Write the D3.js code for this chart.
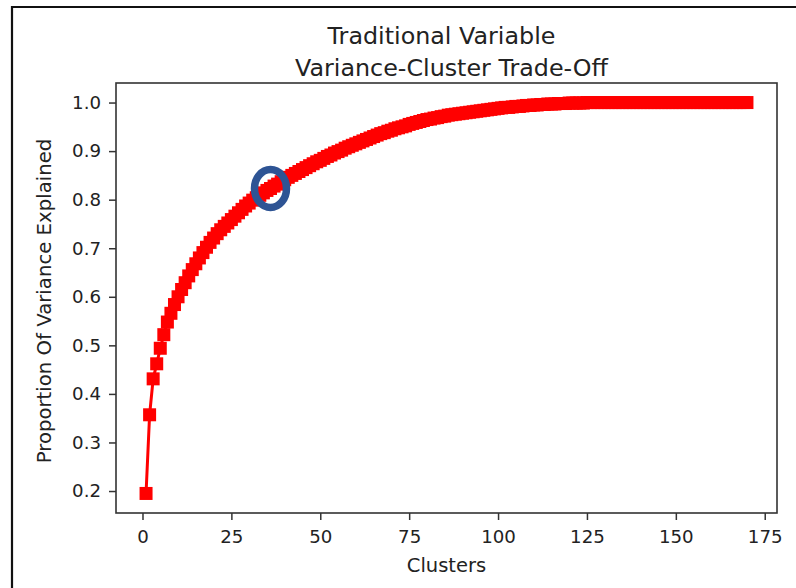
<!DOCTYPE html>
<html>
<head>
<meta charset="utf-8">
<script src="https://cdn.jsdelivr.net/npm/d3@7"></script>
<style>
  html, body { margin: 0; padding: 0; background: #fff; }
  svg { display: block; font-family: "DejaVu Sans", sans-serif; }
</style>
</head>
<body>
<svg id="chart" width="796" height="588"></svg>
<script>
// Title lines
const titleLines = ["Traditional Variable", "Variance-Cluster Trade-Off"];
const xLabel = "Clusters";
const yLabel = "Proportion Of Variance Explained";

// Tick values
const xTicks = [0, 25, 50, 75, 100, 125, 150, 175];
const yTicks = [0.2, 0.3, 0.4, 0.5, 0.6, 0.7, 0.8, 0.9, 1.0];

// Number of clusters, 1..170
const clusters = d3.range(1, 171);

// Cumulative proportion of variance explained for each cluster count
const varianceExplained = [
  0.195, 0.357, 0.431, 0.462, 0.494, 0.522, 0.548, 0.566, 0.584, 0.600,
  0.615, 0.629, 0.643, 0.656, 0.668, 0.680, 0.691, 0.702, 0.712, 0.721,
  0.730, 0.738, 0.745, 0.752, 0.759, 0.766, 0.773, 0.780, 0.787, 0.793,
  0.799, 0.804, 0.809, 0.814, 0.819, 0.823, 0.828, 0.832, 0.837, 0.841,
  0.846, 0.850, 0.854, 0.858, 0.862, 0.866, 0.870, 0.874, 0.878, 0.881,
  0.885, 0.889, 0.892, 0.896, 0.899, 0.902, 0.906, 0.909, 0.912, 0.915,
  0.918, 0.921, 0.924, 0.927, 0.930, 0.933, 0.936, 0.938, 0.941, 0.943,
  0.946, 0.948, 0.950, 0.952, 0.955, 0.957, 0.959, 0.961, 0.963, 0.965,
  0.966, 0.968, 0.969, 0.971, 0.972, 0.974, 0.975, 0.976, 0.977, 0.978,
  0.979, 0.980, 0.981, 0.982, 0.983, 0.984, 0.985, 0.986, 0.987, 0.988,
  0.989, 0.990, 0.990, 0.991, 0.992, 0.992, 0.993, 0.994, 0.994, 0.995,
  0.995, 0.996, 0.996, 0.997, 0.997, 0.997, 0.998, 0.998, 0.998, 0.999,
  0.999, 0.999, 0.999, 0.999, 1.000, 1.000, 1.000, 1.000, 1.000, 1.000,
  1.000, 1.000, 1.000, 1.000, 1.000, 1.000, 1.000, 1.000, 1.000, 1.000,
  1.000, 1.000, 1.000, 1.000, 1.000, 1.000, 1.000, 1.000, 1.000, 1.000,
  1.000, 1.000, 1.000, 1.000, 1.000, 1.000, 1.000, 1.000, 1.000, 1.000,
  1.000, 1.000, 1.000, 1.000, 1.000, 1.000, 1.000, 1.000, 1.000, 1.000
];

// Cluster count singled out with a ring
const highlightCluster = 36;

const data = clusters.map((c, i) => ({ c, v: varianceExplained[i] }));

const svg = d3.select("#chart");
const plot = { left: 116, right: 777, top: 83, bottom: 513 };

// matplotlib-style 5% data margins
function padded(ext) {
  const m = (ext[1] - ext[0]) * 0.05;
  return [ext[0] - m, ext[1] + m];
}

const x = d3.scaleLinear()
  .domain(padded(d3.extent(clusters)))
  .range([plot.left, plot.right]);
const y = d3.scaleLinear()
  .domain(padded(d3.extent(varianceExplained)))
  .range([plot.bottom, plot.top]);

// Outer frame around the figure
svg.append("path")
  .attr("d", "M12,588V7H796")
  .attr("fill", "none")
  .attr("stroke", "#111")
  .attr("stroke-width", 2.2);

// Title
const cx = (plot.left + plot.right) / 2;
svg.append("text")
  .attr("x", cx - 5).attr("y", 44)
  .attr("text-anchor", "middle")
  .attr("font-size", 23.8).attr("fill", "#222")
  .text(titleLines[0]);
svg.append("text")
  .attr("x", cx + 5).attr("y", 75.5)
  .attr("text-anchor", "middle")
  .attr("font-size", 23.8).attr("fill", "#222")
  .text(titleLines[1]);

// Axes
const xAxis = d3.axisBottom(x).tickValues(xTicks).tickFormat(d3.format("d"))
  .tickSize(7).tickPadding(6);
const yAxis = d3.axisLeft(y).tickValues(yTicks).tickFormat(d3.format(".1f"))
  .tickSize(7).tickPadding(8);

const gx = svg.append("g")
  .attr("transform", `translate(0,${plot.bottom})`)
  .call(xAxis);
const gy = svg.append("g")
  .attr("transform", `translate(${plot.left},0)`)
  .call(yAxis);

[gx, gy].forEach(g => {
  g.select(".domain").remove();
  g.selectAll(".tick line").attr("stroke", "#333").attr("stroke-width", 1.5);
  g.selectAll(".tick text")
    .attr("fill", "#222")
    .attr("font-size", 18.2)
    .attr("font-family", "DejaVu Sans, sans-serif");
});
gx.selectAll(".tick text").attr("dy", "0.92em");

// Plot frame (spines)
svg.append("rect")
  .attr("x", plot.left).attr("y", plot.top)
  .attr("width", plot.right - plot.left)
  .attr("height", plot.bottom - plot.top)
  .attr("fill", "none")
  .attr("stroke", "#333")
  .attr("stroke-width", 1.6);

// Axis labels
svg.append("text")
  .attr("x", cx).attr("y", 571.5)
  .attr("text-anchor", "middle")
  .attr("font-size", 19.5).attr("fill", "#222")
  .text(xLabel);
svg.append("text")
  .attr("transform", `translate(51,${(plot.top + plot.bottom) / 2 + 3}) rotate(-90)`)
  .attr("text-anchor", "middle")
  .attr("font-size", 19.7).attr("fill", "#222")
  .text(yLabel);

// Line with square markers
const g = svg.append("g");
g.append("path")
  .datum(data)
  .attr("fill", "none")
  .attr("stroke", "#ff0000")
  .attr("stroke-width", 3)
  .attr("d", d3.line().x(d => x(d.c)).y(d => y(d.v)));

const ms = 13;
g.selectAll("rect.m")
  .data(data)
  .join("rect")
  .attr("class", "m")
  .attr("x", d => x(d.c) - ms / 2)
  .attr("y", d => y(d.v) - ms / 2)
  .attr("width", ms)
  .attr("height", ms)
  .attr("fill", "#ff0000");

// Highlight ring
const hp = data.find(d => d.c === highlightCluster);
svg.append("ellipse")
  .attr("cx", x(hp.c))
  .attr("cy", y(hp.v))
  .attr("rx", 16)
  .attr("ry", 19)
  .attr("fill", "none")
  .attr("stroke", "#2e5494")
  .attr("stroke-width", 7.5);
</script>
</body>
</html>
